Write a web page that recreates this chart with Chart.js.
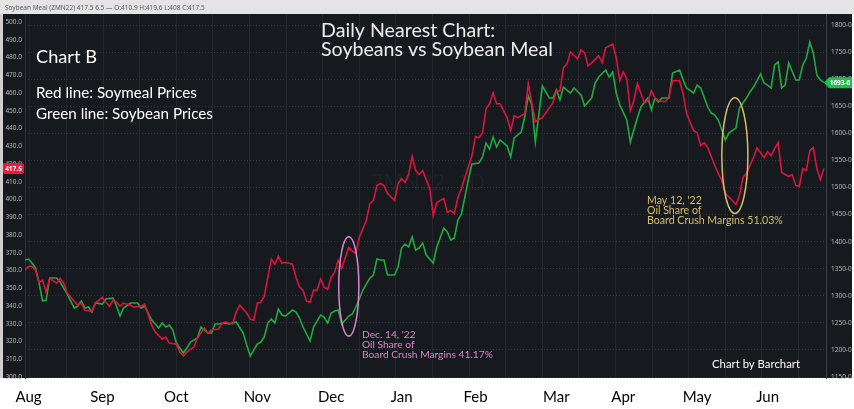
<!DOCTYPE html>
<html>
<head>
<meta charset="utf-8">
<script src="https://cdn.jsdelivr.net/npm/chart.js@4.4.1/dist/chart.umd.min.js"></script>
<style>
  html, body { margin: 0; padding: 0; background: #fff; }
  #wrap { width: 854px; height: 409px; }
</style>
</head>
<body>
<div id="wrap"><canvas id="crushChart" width="854" height="409"></canvas></div>
<script>
// Trading-day index from Aug 2021 (0) to late Jun 2022 (227)
const monthLabels = ['Aug', 'Sep', 'Oct', 'Nov', 'Dec', 'Jan', 'Feb', 'Mar', 'Apr', 'May', 'Jun'];
const monthDays = [1, 22, 43, 66, 87, 107, 128, 151, 170, 191, 211];
const gridDays = [1.4, 11.8, 22.2, 32.6, 43.0, 53.4, 63.8, 74.2, 84.6, 95.0, 105.4, 115.8,
  126.2, 136.6, 147.0, 157.4, 167.8, 178.2, 188.6, 199.0, 209.4, 219.8];

// Soybean meal (ZMN22), left axis, $/short ton
const mealDays = [0, 1, 2, 3, 4, 5, 6, 7, 9, 10,
  11, 12, 13, 15, 16, 17, 19, 20, 22, 23,
  24, 25, 26, 27, 28, 30, 31, 33, 34, 36,
  37, 39, 40, 41, 43, 44, 45, 46, 48, 49,
  51, 52, 53, 55, 56, 57, 59, 60, 61, 63,
  64, 65, 66, 67, 68, 69, 70, 71, 72, 73,
  74, 76, 77, 78, 79, 80, 81, 82, 83, 84,
  85, 86, 87, 88, 89, 90, 92, 93, 94, 95,
  97, 98, 99, 100, 101, 102, 103, 105, 106, 107,
  108, 109, 110, 111, 112, 113, 115, 116, 117, 119,
  120, 121, 122, 123, 124, 125, 127, 128, 129, 130,
  131, 132, 133, 134, 135, 137, 138, 139, 140, 142,
  143, 144, 145, 147, 148, 150, 151, 152, 153, 154,
  155, 157, 158, 159, 160, 161, 163, 164, 165, 167,
  168, 169, 170, 171, 172, 173, 174, 176, 177, 178,
  179, 180, 182, 183, 184, 186, 187, 188, 190, 191,
  192, 193, 194, 196, 197, 198, 199, 201, 202, 203,
  204, 205, 207, 208, 210, 211, 212, 213, 214, 215,
  217, 218, 219, 220, 221, 222, 223, 224, 225, 226,
  227];
const mealPrices = [360.1, 362.4, 362.4, 360.1, 353.4, 354.5, 347.8, 355.6, 352.8, 355.6,
  352.8, 347.2, 344.9, 340.4, 341.6, 337.6, 337.1, 341.6, 344.9, 342.1,
  339.9, 343.3, 342.1, 339.9, 341.6, 340.4, 339.3, 339.9, 341.0, 329.2,
  325.3, 321.3, 322.5, 319.1, 318.5, 314.0, 311.8, 314.0, 316.9, 321.9,
  327.5, 324.7, 326.4, 327.0, 330.3, 330.9, 329.8, 336.5, 340.4, 336.0,
  332.6, 332.0, 341.6, 342.1, 345.5, 356.2, 366.3, 363.5, 368.0, 364.0,
  364.6, 363.5, 356.2, 350.6, 348.9, 342.7, 342.1, 348.9, 348.9, 355.1,
  350.6, 349.4, 356.2, 359.0, 365.7, 361.2, 373.0, 370.8, 369.7, 378.7,
  388.2, 397.8, 399.4, 407.9, 409.0, 407.9, 403.4, 399.4, 409.0, 411.8,
  409.6, 414.0, 424.2, 416.3, 414.0, 416.3, 406.2, 391.0, 398.3, 400.6,
  392.7, 393.8, 392.1, 401.1, 406.2, 412.4, 424.7, 435.4, 434.8, 437.6,
  451.1, 453.9, 460.1, 453.9, 453.9, 446.1, 438.8, 447.2, 446.1, 448.3,
  465.2, 454.5, 443.8, 446.1, 448.9, 454.5, 461.2, 461.2, 474.2, 476.4,
  483.1, 479.2, 484.3, 482.6, 475.3, 477.0, 480.9, 477.0, 485.4, 487.6,
  479.8, 466.9, 471.9, 468.0, 450.0, 455.6, 465.2, 454.5, 455.6, 461.2,
  457.3, 455.6, 455.1, 458.4, 466.9, 466.9, 459.6, 448.3, 438.8, 437.6,
  430.3, 432.0, 429.2, 419.1, 414.6, 410.7, 403.4, 399.4, 397.2, 402.2,
  412.4, 414.6, 423.6, 429.2, 423.6, 427.0, 424.7, 428.7, 432.0, 415.2,
  412.9, 414.0, 407.9, 407.3, 417.4, 416.3, 427.5, 429.2, 417.4, 411.2,
  417.5];

// Soybeans (nearest), right axis, cents/bushel
const beanDays = [0, 1, 2, 3, 4, 5, 6, 7, 9, 10,
  12, 13, 14, 15, 16, 17, 18, 19, 20, 22,
  23, 25, 26, 27, 28, 30, 32, 33, 34, 36,
  38, 39, 40, 41, 42, 43, 45, 46, 47, 49,
  50, 52, 53, 54, 55, 57, 58, 60, 62, 63,
  64, 66, 67, 68, 69, 70, 71, 72, 73, 74,
  76, 77, 78, 79, 81, 82, 84, 85, 86, 87,
  88, 89, 90, 92, 93, 94, 95, 96, 98, 99,
  100, 101, 102, 103, 105, 106, 107, 108, 109, 110,
  111, 112, 113, 114, 116, 117, 119, 120, 121, 122,
  123, 124, 125, 126, 127, 129, 130, 131, 132, 133,
  134, 135, 137, 138, 139, 141, 142, 143, 144, 145,
  146, 147, 149, 150, 151, 152, 153, 155, 156, 158,
  159, 161, 162, 163, 165, 166, 167, 168, 169, 171,
  172, 173, 174, 175, 177, 178, 179, 180, 181, 183,
  184, 186, 187, 188, 190, 191, 192, 194, 195, 196,
  197, 199, 200, 202, 203, 205, 206, 207, 209, 210,
  211, 212, 213, 214, 215, 216, 217, 219, 220, 221,
  222, 223, 224, 225, 226, 227];
const beanPrices = [1366.1, 1367.9, 1360.5, 1351.3, 1323.6, 1290.3, 1292.2, 1332.8, 1332.8, 1325.4,
  1303.3, 1290.3, 1277.4, 1281.1, 1290.3, 1277.4, 1279.3, 1270.0, 1286.7, 1284.8,
  1294.0, 1295.9, 1281.1, 1262.6, 1277.4, 1286.7, 1286.7, 1277.4, 1281.1, 1255.3,
  1240.5, 1249.7, 1242.3, 1246.0, 1236.8, 1212.8, 1194.3, 1203.6, 1214.6, 1222.0,
  1242.3, 1231.3, 1231.3, 1247.9, 1247.9, 1249.7, 1247.9, 1251.6, 1231.3, 1209.1,
  1188.8, 1210.9, 1214.6, 1223.9, 1249.7, 1257.1, 1249.7, 1275.6, 1264.5, 1262.6,
  1273.7, 1270.0, 1259.0, 1242.3, 1216.5, 1242.3, 1264.5, 1260.8, 1249.7, 1268.2,
  1271.9, 1273.7, 1247.9, 1262.6, 1266.3, 1279.3, 1294.0, 1310.7, 1332.8, 1338.4,
  1367.9, 1366.1, 1366.1, 1338.4, 1338.4, 1353.1, 1388.2, 1395.6, 1390.1, 1408.5,
  1384.5, 1388.2, 1397.5, 1375.3, 1360.5, 1390.1, 1425.2, 1417.8, 1403.0, 1406.7,
  1439.9, 1451.0, 1482.4, 1515.6, 1543.3, 1545.2, 1556.3, 1582.1, 1571.0, 1593.2,
  1574.7, 1587.7, 1576.6, 1556.3, 1591.4, 1602.4, 1630.1, 1668.9, 1652.3, 1584.0,
  1633.8, 1687.4, 1665.2, 1665.2, 1680.0, 1661.5, 1685.5, 1674.5, 1683.7, 1670.8,
  1650.5, 1665.2, 1692.9, 1704.0, 1716.9, 1704.0, 1713.2, 1674.5, 1652.3, 1624.6,
  1584.0, 1606.1, 1628.3, 1648.6, 1665.2, 1643.1, 1665.2, 1657.8, 1665.2, 1665.2,
  1711.4, 1716.9, 1698.5, 1683.7, 1674.5, 1689.2, 1683.7, 1648.6, 1637.5, 1633.8,
  1624.6, 1587.7, 1600.6, 1609.8, 1646.8, 1665.2, 1676.3, 1685.5, 1709.6, 1692.9,
  1689.2, 1683.7, 1726.2, 1731.7, 1683.7, 1689.2, 1729.9, 1698.5, 1698.5, 1726.2,
  1739.1, 1768.6, 1748.3, 1707.7, 1698.5, 1693.6];

const mealTicks = [300, 310, 320, 330, 340, 350, 360, 370, 380, 390, 400,
  410, 420, 430, 440, 450, 460, 470, 480, 490, 500];
const beanTicks = [1150, 1200, 1250, 1300, 1350, 1400, 1450, 1500, 1550,
  1600, 1650, 1700, 1750, 1800];

const RED = '#dc143c';
const GREEN = '#22a940';

// barchart style for grain prices: 1693.6 -> "1693-6"
function beanFmt(v) {
  const whole = Math.floor(v);
  return whole + '-' + Math.round((v - whole) * 10);
}

function fitText(ctx, lines, x, y0, lineGap, width, family) {
  ctx.font = '20px ' + family;
  let widest = 0;
  lines.forEach(t => { widest = Math.max(widest, ctx.measureText(t).width); });
  const size = 20 * width / widest;
  ctx.font = size.toFixed(2) + 'px ' + family;
  lines.forEach((t, i) => ctx.fillText(t, x, y0 + i * lineGap));
}

const notes = [
  { day: 92, meal: 351, halfDays: 2.85, halfMeal: 28, color: '#d884cf',
    lines: ['Dec. 14, \'22', 'Oil Share of', 'Board Crush Margins 41.17%'], tx: 362, ty: 337.5, tw: 131 },
  { day: 201.7, meal: 424.7, halfDays: 3.7, halfMeal: 32.6, color: '#d6bd6a',
    lines: ['May 12, \'22', 'Oil Share of', 'Board Crush Margins 51.03%'], tx: 647, ty: 203.5, tw: 136 }
];

const panelPlugin = {
  id: 'panel',
  beforeDraw(chart) {
    const { ctx, chartArea } = chart;
    ctx.save();
    ctx.fillStyle = '#ffffff';
    ctx.fillRect(0, 0, chart.width, chart.height);
    ctx.fillStyle = '#e4e4e4';
    ctx.fillRect(0, 0, chart.width, chartArea.top);
    ctx.fillStyle = '#cfcfcf';
    ctx.fillRect(0, chartArea.top, 3, chartArea.bottom - chartArea.top);
    ctx.fillStyle = '#161a1e';
    ctx.fillRect(3, chartArea.top, chart.width - 5, chartArea.bottom - chartArea.top);
    ctx.fillStyle = '#5c5c5c';
    ctx.font = '6.5px "Noto Sans"';
    ctx.textBaseline = 'alphabetic';
    ctx.fillText('Soybean Meal (ZMN22) 417.5 6.5 \u2014 O:410.9 H:419.6 L:408 C:417.5', 5, 10);
    ctx.restore();
  },
  beforeDatasetsDraw(chart) {
    const ctx = chart.ctx;
    ctx.save();
    ctx.fillStyle = 'rgba(255,255,255,0.035)';
    ctx.font = '22px "Open Sans"';
    ctx.textAlign = 'center';
    ctx.fillText('ZMN22, 1D', 428, 190);
    ctx.restore();
  },
  afterDatasetsDraw(chart) {
    const { ctx, scales } = chart;
    const xs = scales.x, ym = scales.y, yb = scales.y2;
    ctx.save();
    ctx.textBaseline = 'alphabetic';
    ctx.textAlign = 'left';

    // circled dates and their notes
    notes.forEach(n => {
      const cx = xs.getPixelForValue(n.day);
      const cy = ym.getPixelForValue(n.meal);
      const rx = xs.getPixelForValue(n.day + n.halfDays) - cx;
      const ry = cy - ym.getPixelForValue(n.meal + n.halfMeal);
      ctx.strokeStyle = n.color;
      ctx.lineWidth = 1.5;
      ctx.beginPath();
      ctx.ellipse(cx, cy, rx, ry, 0, 0, Math.PI * 2);
      ctx.stroke();
      ctx.fillStyle = n.color;
      fitText(ctx, n.lines, n.tx, n.ty, 10, n.tw, 'Lato');
    });

    // text boxes
    ctx.fillStyle = '#ffffff';
    fitText(ctx, ['Chart B'], 36, 62.5, 0, 61, 'Lato');
    fitText(ctx, ['Red line: Soymeal Prices', 'Green line: Soybean Prices'], 36, 97.5, 21, 177, 'Lato');
    ctx.fillStyle = '#ececec';
    fitText(ctx, ['Daily Nearest Chart:', 'Soybeans vs Soybean Meal'], 321, 36.5, 19, 232, 'Lato');
    ctx.fillStyle = '#ffffff';
    fitText(ctx, ['Chart by Barchart'], 712, 368, 0, 88, 'Lato');

    // last price badges
    const lastMeal = mealPrices[mealPrices.length - 1];
    const lastBean = beanPrices[beanPrices.length - 1];
    const my = ym.getPixelForValue(lastMeal);
    ctx.fillStyle = '#ee1a3c';
    ctx.beginPath();
    ctx.roundRect(3, my - 5.5, 21, 11, 2);
    ctx.fill();
    const by = yb.getPixelForValue(lastBean);
    ctx.fillStyle = '#1fbf4c';
    ctx.beginPath();
    ctx.moveTo(xs.right - 2, by);
    ctx.lineTo(xs.right + 3, by - 5.5);
    ctx.lineTo(chart.width - 2, by - 5.5);
    ctx.lineTo(chart.width - 2, by + 5.5);
    ctx.lineTo(xs.right + 3, by + 5.5);
    ctx.closePath();
    ctx.fill();
    ctx.fillStyle = '#ffffff';
    ctx.font = 'bold 6.5px "Noto Sans"';
    ctx.textAlign = 'center';
    ctx.textBaseline = 'middle';
    ctx.fillText(lastMeal.toFixed(1), 13.5, my + 0.5);
    ctx.fillText(beanFmt(lastBean), (xs.right + chart.width) / 2, by + 0.5);
    ctx.restore();
  }
};

const tickFont = { family: 'Noto Sans', size: 6.5 };

new Chart(document.getElementById('crushChart'), {
  type: 'line',
  data: {
    datasets: [
      {
        label: 'Soymeal',
        data: mealDays.map((d, i) => ({ x: d, y: mealPrices[i] })),
        yAxisID: 'y',
        borderColor: RED,
        borderWidth: 1.6,
        pointRadius: 0,
        tension: 0
      },
      {
        label: 'Soybeans',
        data: beanDays.map((d, i) => ({ x: d, y: beanPrices[i] })),
        yAxisID: 'y2',
        borderColor: GREEN,
        borderWidth: 1.6,
        pointRadius: 0,
        tension: 0
      }
    ]
  },
  options: {
    responsive: false,
    animation: false,
    devicePixelRatio: 1,
    layout: { padding: { top: 14, left: 3, right: 2, bottom: 3 } },
    plugins: { legend: { display: false }, tooltip: { enabled: false } },
    scales: {
      x: {
        type: 'linear',
        min: 0,
        max: 227.6,
        grid: { display: false, drawTicks: false },
        border: { display: false },
        afterBuildTicks: s => { s.ticks = monthDays.map(v => ({ value: v })); },
        afterFit: s => { s.height = 28; },
        ticks: {
          autoSkip: false,
          maxRotation: 0,
          padding: 10,
          color: '#000000',
          font: { family: 'Lato', size: 15 },
          callback: v => monthLabels[monthDays.indexOf(v)]
        }
      },
      xg: {
        type: 'linear',
        position: 'top',
        min: 0,
        max: 227.6,
        afterBuildTicks: s => { s.ticks = gridDays.map(v => ({ value: v })); },
        afterFit: s => { s.height = 0; },
        ticks: { display: false },
        grid: { color: '#22272c', drawTicks: false },
        border: { display: false }
      },
      y: {
        type: 'linear',
        position: 'left',
        min: 299.4,
        max: 504.5,
        afterBuildTicks: s => { s.ticks = mealTicks.map(v => ({ value: v })); },
        afterFit: s => { s.width = 22; },
        grid: { display: false, drawTicks: false },
        border: { color: '#2c3137' },
        ticks: { padding: 3, color: '#b4b4b4', font: tickFont, callback: v => v.toFixed(1) }
      },
      y2: {
        type: 'linear',
        position: 'right',
        min: 1148.2,
        max: 1820.4,
        afterBuildTicks: s => { s.ticks = beanTicks.map(v => ({ value: v })); },
        afterFit: s => { s.width = 26; },
        grid: { color: '#30363c', drawTicks: false },
        border: { color: '#3b4048', dash: [1, 2] },
        ticks: { padding: 5, color: '#b4b4b4', font: tickFont, callback: v => beanFmt(v) }
      }
    }
  },
  plugins: [panelPlugin]
});
</script>
</body>
</html>
